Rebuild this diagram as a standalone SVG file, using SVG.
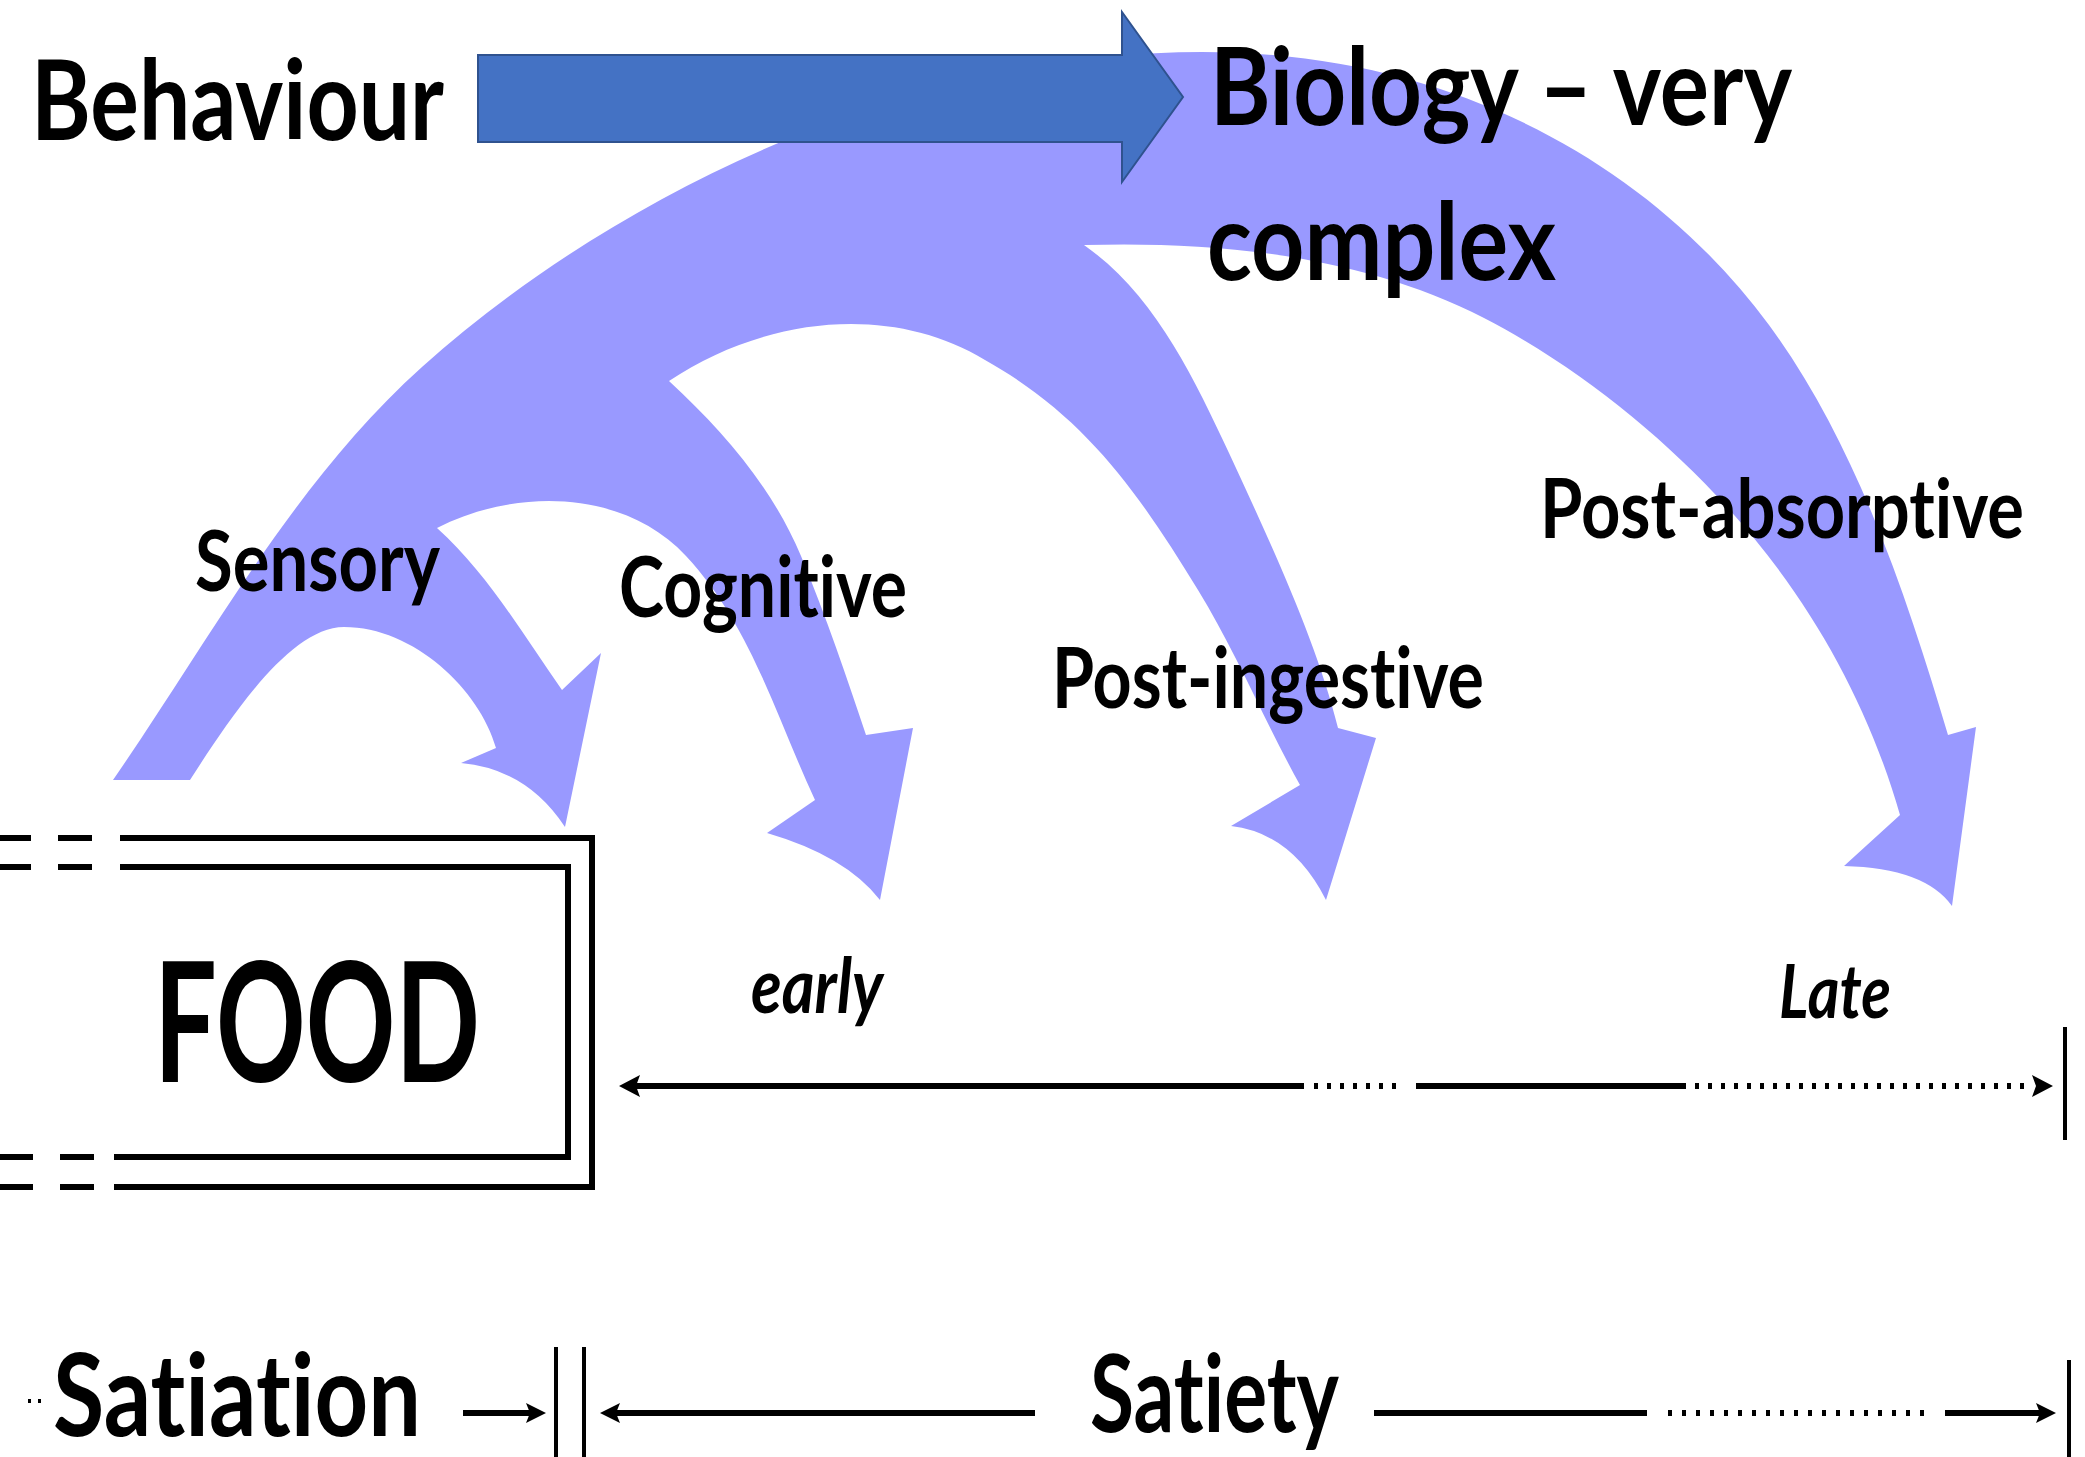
<svg xmlns="http://www.w3.org/2000/svg" width="2085" height="1457" viewBox="0 0 2085 1457">
<defs>
<style>
.t{font-family:Lato,"Open Sans","Liberation Sans",sans-serif;font-weight:700;fill:#000;font-variant-ligatures:none;font-feature-settings:"liga" 0,"clig" 0}
.it{font-style:italic}
.ln{stroke:#000;stroke-width:6;fill:none}
.dot{stroke:#000;stroke-width:6;fill:none;stroke-dasharray:4 9}
.bar{stroke:#000;stroke-width:4;fill:none}
.hd{fill:#000}
</style>
</defs>
<rect width="2085" height="1457" fill="#fff"/>
<g id="fan">
<path fill="#9999FF" d="M 113 780 C 211 638 294 482 422 367 C 608 200 902 52 1202 52 C 1452 52 1650 164 1769 325 C 1858 446 1909 604 1948 735 L 1976 727 L 1952 906 Q 1925 868 1844 866 L 1900 815 C 1867 700 1808 596 1727 507 C 1660 433 1573 364 1484 318 C 1364 256 1219 241 1084 245 C 1154 294 1193 376 1229 453 C 1273 548 1317 643 1338 728 L 1376 738 L 1326 900 Q 1292 833 1231 826 L 1300 785 C 1266 724 1235 650 1198 590 C 1138 492 1085 416 985 360 C 889 302 763 318 669 381 C 724 432 772 487 801 556 C 826 616 848 681 866 735 L 913 728 L 880 900 Q 846 856 767 833 L 815 800 C 775 714 751 626 686 556 C 625 490 517 487 437 528 C 489 575 523 635 562 690 L 601 653 L 565 827 Q 527 769 461 763 L 496 748 C 480 690 414 627 344 627 C 289 627 228 721 190 780 Z"/>
</g>
<g id="behaviour-arrow">
<path fill="#4472C4" stroke="#2F528F" stroke-width="2" d="M 478 55 L 1122 55 L 1122 12 L 1183 97 L 1122 182 L 1122 142 L 478 142 Z"/>
</g>
<g id="label-behaviour"><text class="t" x="31" y="140" font-size="112" textLength="413" lengthAdjust="spacingAndGlyphs">Behaviour</text></g>
<g id="label-biology">
<text class="t" x="1210" y="125" font-size="108" textLength="582" lengthAdjust="spacingAndGlyphs">Biology – very</text>
<text class="t" x="1207" y="280" font-size="108" textLength="349" lengthAdjust="spacingAndGlyphs">complex</text>
</g>
<g id="label-sensory"><text class="t" x="195" y="591" font-size="85" textLength="245" lengthAdjust="spacingAndGlyphs">Sensory</text></g>
<g id="label-cognitive"><text class="t" x="619" y="617" font-size="85" textLength="288" lengthAdjust="spacingAndGlyphs">Cognitive</text></g>
<g id="label-postingestive"><text class="t" x="1052" y="708" font-size="85" textLength="432" lengthAdjust="spacingAndGlyphs">Post-ingestive</text></g>
<g id="label-postabsorptive"><text class="t" x="1540" y="538" font-size="83" textLength="484" lengthAdjust="spacingAndGlyphs">Post-absorptive</text></g>
<g id="label-early"><text class="t it" x="751" y="1013" font-size="77" textLength="132" lengthAdjust="spacingAndGlyphs">early</text></g>
<g id="label-late"><text class="t it" x="1779" y="1018" font-size="75" textLength="112" lengthAdjust="spacingAndGlyphs">Late</text></g>
<g id="food">
<polyline class="ln" points="120,838 592,838 592,1187 114,1187"/>
<polyline class="ln" points="120,867 568,867 568,1157 114,1157"/>
<line class="ln" x1="0" y1="838" x2="31" y2="838"/>
<line class="ln" x1="58" y1="838" x2="92" y2="838"/>
<line class="ln" x1="0" y1="867" x2="31" y2="867"/>
<line class="ln" x1="58" y1="867" x2="92" y2="867"/>
<line class="ln" x1="0" y1="1157" x2="33" y2="1157"/>
<line class="ln" x1="60" y1="1157" x2="94" y2="1157"/>
<line class="ln" x1="0" y1="1187" x2="33" y2="1187"/>
<line class="ln" x1="60" y1="1187" x2="94" y2="1187"/>
<text class="t" x="154" y="1082" font-size="166" textLength="326" lengthAdjust="spacingAndGlyphs">FOOD</text>
</g>
<g id="label-satiation"><text class="t" x="53" y="1436" font-size="115" textLength="368" lengthAdjust="spacingAndGlyphs">Satiation</text></g>
<g id="label-satiety"><text class="t" x="1090" y="1432" font-size="108" textLength="249" lengthAdjust="spacingAndGlyphs">Satiety</text></g>
<g id="connectors">
<line class="ln" x1="636" y1="1086" x2="1304" y2="1086"/>
<polygon class="hd" points="619,1086 640,1075 636,1086 640,1097"/>
<line class="dot" x1="1314" y1="1086" x2="1404" y2="1086"/>
<line class="ln" x1="1416" y1="1086" x2="1686" y2="1086"/>
<line class="dot" x1="1695" y1="1086" x2="2030" y2="1086"/>
<polygon class="hd" points="2053,1086 2032,1075 2036,1086 2032,1097"/>
<line class="bar" x1="2065" y1="1027" x2="2065" y2="1140"/>
<line x1="28" y1="1401" x2="45" y2="1401" stroke="#000" stroke-width="4" stroke-dasharray="3 7"/>
<line class="ln" x1="463" y1="1413" x2="530" y2="1413"/>
<polygon class="hd" points="546,1413 526,1403 530,1413 526,1423"/>
<line class="bar" x1="556" y1="1347" x2="556" y2="1457"/>
<line class="bar" x1="584" y1="1347" x2="584" y2="1457"/>
<polygon class="hd" points="600,1413 620,1403 616,1413 620,1423"/>
<line class="ln" x1="616" y1="1413" x2="1035" y2="1413"/>
<line class="ln" x1="1374" y1="1413" x2="1647" y2="1413"/>
<line class="dot" x1="1668" y1="1413" x2="1931" y2="1413" style="stroke-dasharray:4 10"/>
<line class="ln" x1="1945" y1="1413" x2="2040" y2="1413"/>
<polygon class="hd" points="2056,1413 2036,1403 2040,1413 2036,1423"/>
<line class="bar" x1="2069" y1="1360" x2="2069" y2="1457"/>
</g>
</svg>
